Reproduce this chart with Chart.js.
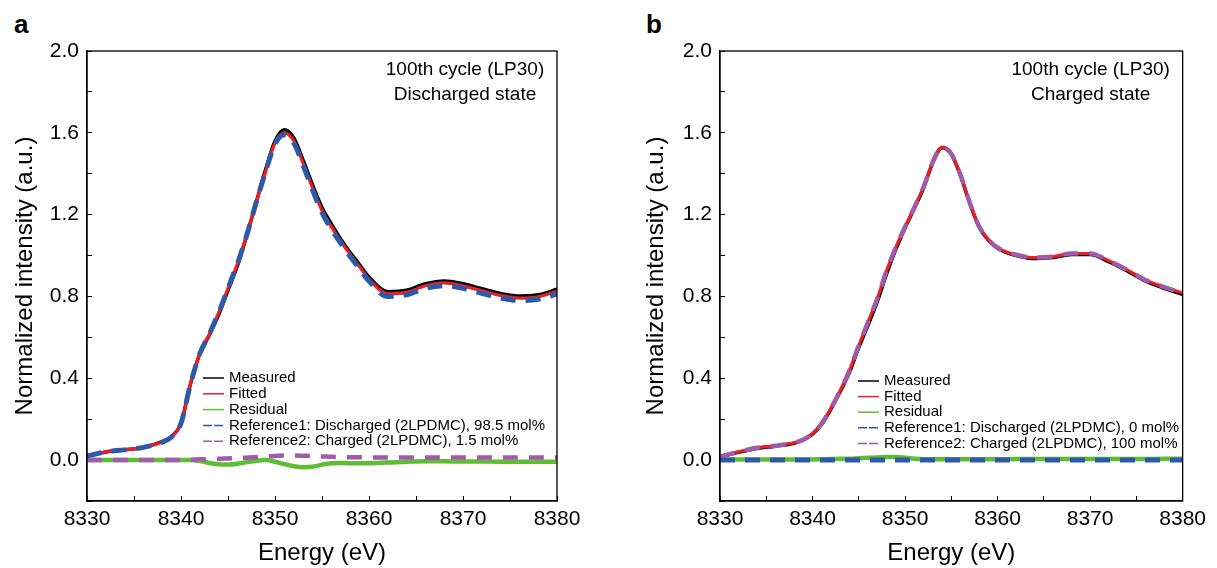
<!DOCTYPE html>
<html lang="en">
<head>
<meta charset="UTF-8">
<title>XANES linear combination fit</title>
<script src="https://cdn.jsdelivr.net/npm/chart.js"></script>
<style>
  body { margin: 0; background: #fff; font-family: Arial, "Liberation Sans", sans-serif; }
  #wrap { position: relative; width: 1217px; height: 568px; overflow: hidden; }
  .panel { position: absolute; top: 0; width: 607px; height: 568px; }
  #panelA { left: 0; }
  #panelB { left: 610px; }
  .tag { position: absolute; top: 11px; font: bold 26px Arial, "Liberation Sans", sans-serif; line-height: 26px; color: #000; }
</style>
</head>
<body>
<div id="wrap">
  <div class="tag" style="left:14px">a</div>
  <div class="tag" style="left:646px">b</div>
  <div class="panel" id="panelA"><canvas id="chartA"></canvas></div>
  <div class="panel" id="panelB"><canvas id="chartB"></canvas></div>
</div>

<script>
// ---- data ----
const energy = [8330, 8332, 8334, 8336, 8338, 8339, 8340, 8341, 8342, 8343, 8344, 8345, 8346, 8347, 8348, 8349,
                8350, 8351, 8352, 8353, 8354, 8355, 8356, 8357, 8358, 8359, 8360, 8362, 8364, 8366, 8368, 8370,
                8372, 8374, 8376, 8378, 8380];

const xTickLabels = [8330, 8340, 8350, 8360, 8370, 8380];
const yTickLabels = [0.0, 0.4, 0.8, 1.2, 1.6, 2.0];

const labelsA = ['Measured', 'Fitted', 'Residual',
                 'Reference1: Discharged (2LPDMC), 98.5 mol%', 'Reference2: Charged (2LPDMC), 1.5 mol%'];
const labelsB = ['Measured', 'Fitted', 'Residual',
                 'Reference1: Discharged (2LPDMC), 0 mol%', 'Reference2: Charged (2LPDMC), 100 mol%'];
const noteA = ['100th cycle (LP30)', 'Discharged state'];
const noteB = ['100th cycle (LP30)', 'Charged state'];

// panel a : discharged state
const measuredA = [0.02, 0.04, 0.05, 0.062, 0.09, 0.115, 0.18, 0.37, 0.52, 0.61, 0.71, 0.83, 0.95, 1.10, 1.26, 1.42,
                   1.56, 1.615, 1.575, 1.465, 1.345, 1.235, 1.155, 1.08, 1.015, 0.955, 0.895, 0.823, 0.83, 0.862, 0.876, 0.862,
                   0.838, 0.815, 0.802, 0.808, 0.835];
const fittedA = [0.02, 0.04, 0.05, 0.062, 0.088, 0.113, 0.18, 0.37, 0.52, 0.615, 0.72, 0.84, 0.96, 1.10, 1.26, 1.41,
                 1.55, 1.60, 1.56, 1.45, 1.33, 1.22, 1.14, 1.07, 1.005, 0.945, 0.885, 0.813, 0.82, 0.852, 0.866, 0.852,
                 0.828, 0.805, 0.792, 0.798, 0.825];
const residualA = [0, 0, 0, 0, 0, 0, 0, 0, -0.005, -0.014, -0.02, -0.022, -0.018, -0.01, -0.003, 0.0,
                   -0.008, -0.02, -0.03, -0.035, -0.033, -0.022, -0.015, -0.014, -0.015, -0.016, -0.015, -0.012, -0.008, -0.006, -0.006, -0.007,
                   -0.007, -0.008, -0.008, -0.008, -0.008];
const ref1A = [0.02, 0.04, 0.05, 0.062, 0.088, 0.113, 0.18, 0.37, 0.52, 0.615, 0.72, 0.84, 0.96, 1.10, 1.26, 1.41,
               1.545, 1.59, 1.55, 1.44, 1.32, 1.21, 1.13, 1.06, 0.995, 0.935, 0.875, 0.80, 0.808, 0.84, 0.853, 0.84,
               0.815, 0.793, 0.78, 0.786, 0.813];
const ref2A = [0, 0, 0, 0, 0, 0, 0, 0.002, 0.004, 0.005, 0.006, 0.008, 0.01, 0.012, 0.015, 0.018,
               0.02, 0.022, 0.022, 0.021, 0.02, 0.018, 0.016, 0.015, 0.014, 0.014, 0.013, 0.013, 0.013, 0.013, 0.013, 0.013,
               0.013, 0.013, 0.013, 0.013, 0.013];

// panel b : charged state
const measuredB = [0.015, 0.038, 0.057, 0.068, 0.082, 0.098, 0.127, 0.175, 0.25, 0.335, 0.43, 0.55, 0.66, 0.775, 0.91, 1.03,
                   1.135, 1.23, 1.33, 1.455, 1.527, 1.495, 1.39, 1.255, 1.14, 1.075, 1.035, 1.0, 0.985, 0.99, 1.005, 1.005,
                   0.97, 0.925, 0.875, 0.84, 0.81];
const fittedB = [0.017, 0.04, 0.06, 0.07, 0.085, 0.1, 0.13, 0.18, 0.255, 0.34, 0.44, 0.56, 0.675, 0.79, 0.925, 1.04,
                 1.14, 1.235, 1.335, 1.458, 1.53, 1.497, 1.393, 1.258, 1.143, 1.078, 1.038, 1.004, 0.99, 0.995, 1.01, 1.01,
                 0.975, 0.93, 0.88, 0.846, 0.817];
const residualB = [0.003, 0.003, 0.003, 0.003, 0.003, 0.003, 0.003, 0.004, 0.005, 0.006, 0.007, 0.009, 0.011, 0.013, 0.015, 0.015,
                   0.012, 0.007, 0.004, 0.004, 0.004, 0.004, 0.004, 0.004, 0.004, 0.004, 0.004, 0.005, 0.005, 0.005, 0.005, 0.005,
                   0.005, 0.005, 0.005, 0.006, 0.006];
const ref1B = [0, 0, 0, 0, 0, 0, 0, 0, 0, 0, 0, 0, 0, 0, 0, 0,
               0, 0, 0, 0, 0, 0, 0, 0, 0, 0, 0, 0, 0, 0, 0, 0,
               0, 0, 0, 0, 0];
const ref2B = [0.017, 0.04, 0.06, 0.07, 0.085, 0.1, 0.13, 0.18, 0.255, 0.34, 0.44, 0.56, 0.675, 0.79, 0.925, 1.04,
               1.14, 1.235, 1.335, 1.458, 1.53, 1.497, 1.393, 1.258, 1.143, 1.078, 1.038, 1.004, 0.99, 0.995, 1.01, 1.01,
               0.975, 0.93, 0.88, 0.846, 0.817];

// ---- styling ----
const FONT = 'Arial, "Liberation Sans", sans-serif';
const lineStyles = [
  { color: '#000000', width: 3.5, dash: [], order: 5 },        // measured
  { color: '#e8202a', width: 3.2, dash: [], order: 3 },        // fitted
  { color: '#5ebd35', width: 4.5, dash: [], order: 4 },        // residual
  { color: '#2c5aa8', width: 5, dash: [15, 10], order: 1 },    // reference 1
  { color: '#a05bab', width: 4.5, dash: [15, 11], order: 2 }   // reference 2
];

function makeDatasets(labels, seriesList) {
  return seriesList.map((vals, i) => ({
    label: labels[i],
    data: energy.map((e, k) => ({ x: e, y: vals[k] })),
    borderColor: lineStyles[i].color,
    borderWidth: lineStyles[i].width,
    borderDash: lineStyles[i].dash,
    order: lineStyles[i].order,
    pointRadius: 0,
    fill: false,
    cubicInterpolationMode: 'monotone'
  }));
}

const framePlugin = {
  id: 'frame',
  afterDraw(chart) {
    const { ctx, chartArea: a } = chart;
    ctx.save();
    ctx.strokeStyle = '#000';
    ctx.lineWidth = 1.3;
    ctx.strokeRect(a.left, a.top, a.right - a.left, a.bottom - a.top);
    ctx.restore();
  }
};

function makeLegend(dx, dy, gap) {
  return {
    id: 'insideLegend',
    afterDraw(chart) {
      const { ctx, chartArea: a } = chart;
      ctx.save();
      ctx.font = '15px ' + FONT;
      ctx.textBaseline = 'middle';
      ctx.textAlign = 'left';
      chart.data.datasets.forEach((ds, i) => {
        const y = a.top + dy + i * gap;
        const x0 = a.left + dx;
        ctx.beginPath();
        ctx.strokeStyle = ds.borderColor;
        ctx.lineWidth = 1.5;
        ctx.setLineDash(ds.borderDash.length ? [9, 2] : []);
        ctx.moveTo(x0, y);
        ctx.lineTo(x0 + 21, y);
        ctx.stroke();
        ctx.setLineDash([]);
        ctx.fillStyle = '#000';
        ctx.fillText(ds.label, x0 + 26, y);
      });
      ctx.restore();
    }
  };
}

function makeNote(lines) {
  return {
    id: 'note',
    afterDraw(chart) {
      const { ctx, chartArea: a } = chart;
      ctx.save();
      ctx.font = '19px ' + FONT;
      ctx.fillStyle = '#000';
      ctx.textAlign = 'center';
      ctx.textBaseline = 'middle';
      lines.forEach((t, i) => ctx.fillText(t, a.right - 92, a.top + 19 + i * 25));
      ctx.restore();
    }
  };
}

function buildChart(id, datasets, opt) {
  const axisGrid = { drawOnChartArea: false, tickLength: -5, color: '#000', tickColor: '#000', lineWidth: 1 };
  const axisBorder = { color: '#000', width: 1.3 };
  return new Chart(document.getElementById(id), {
    type: 'line',
    data: { datasets: datasets },
    options: {
      responsive: true,
      maintainAspectRatio: false,
      animation: false,
      layout: { padding: { top: 51, right: opt.padRight, left: 0, bottom: 0 } },
      plugins: { legend: { display: false }, tooltip: { enabled: false } },
      scales: {
        x: {
          type: 'linear',
          min: 8330,
          max: 8380,
          border: axisBorder,
          grid: axisGrid,
          ticks: {
            stepSize: 5,
            autoSkip: false,
            maxRotation: 0,
            padding: 11,
            color: '#000',
            font: { size: 21, family: FONT },
            callback: v => xTickLabels.includes(v) ? String(v) : ''
          },
          title: { display: true, text: 'Energy (eV)', color: '#000', font: { size: 24, family: FONT }, padding: { top: 0, bottom: 0 } },
          afterFit: s => { s.height = 67; }
        },
        y: {
          min: -0.2,
          max: 2.0,
          border: axisBorder,
          grid: axisGrid,
          ticks: {
            stepSize: 0.2,
            autoSkip: false,
            padding: 13,
            color: '#000',
            font: { size: 21, family: FONT },
            callback: v => {
              const hit = yTickLabels.find(t => Math.abs(t - v) < 1e-6);
              return hit === undefined ? '' : hit.toFixed(1);
            }
          },
          title: { display: true, text: 'Normalized intensity (a.u.)', color: '#000', font: { size: 24, family: FONT }, padding: { top: opt.yTitlePad, bottom: 0 } },
          afterFit: s => { s.width = opt.yWidth; }
        }
      }
    },
    plugins: [framePlugin, makeLegend(opt.legDx, opt.legDy, opt.legGap), makeNote(opt.note)]
  });
}

buildChart('chartA',
  makeDatasets(labelsA, [measuredA, fittedA, residualA, ref1A, ref2A]),
  { padRight: 50, yWidth: 87, yTitlePad: 10.6, legDx: 116, legDy: 327, legGap: 15.8, note: noteA });

buildChart('chartB',
  makeDatasets(labelsB, [measuredB, fittedB, residualB, ref1B, ref2B]),
  { padRight: 27, yWidth: 110, yTitlePad: 31.6, legDx: 138, legDy: 330, legGap: 15.6, note: noteB });
</script>
</body>
</html>
